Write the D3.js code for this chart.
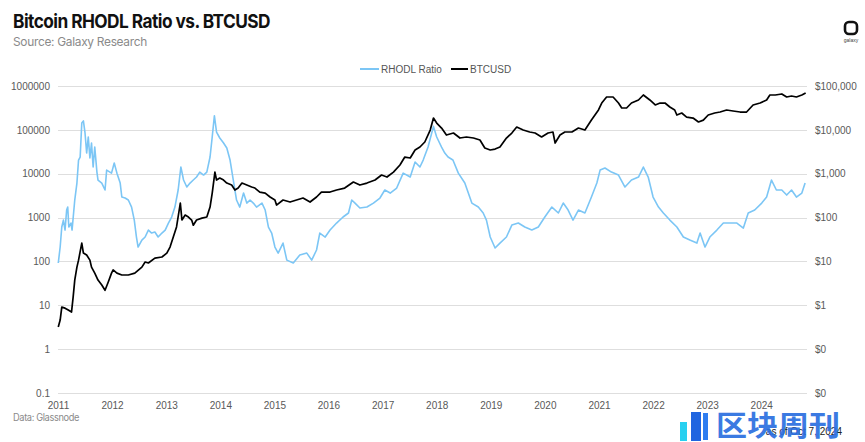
<!DOCTYPE html>
<html><head><meta charset="utf-8">
<script src="https://cdn.jsdelivr.net/npm/d3@7"></script>
<style>body{margin:0;background:#fff}svg{display:block}</style>
</head><body>
<svg id="c" width="865" height="442"></svg>
<script>
// ---- data (decimal years) ----
const rhodlDates=[2011.005,2011.04,2011.07,2011.10,2011.13,2011.16,2011.18,2011.20,2011.24,2011.26,2011.31,2011.35,2011.38,2011.41,2011.44,2011.47,2011.50,2011.53,2011.56,2011.59,2011.62,2011.65,2011.68,2011.72,2011.74,2011.81,2011.87,2011.90,2011.96,2011.99,2012.04,2012.09,2012.15,2012.18,2012.24,2012.30,2012.36,2012.41,2012.45,2012.48,2012.55,2012.61,2012.67,2012.73,2012.79,2012.85,2012.92,2012.98,2013.04,2013.10,2013.16,2013.22,2013.27,2013.32,2013.38,2013.44,2013.50,2013.56,2013.62,2013.69,2013.75,2013.81,2013.85,2013.89,2013.93,2013.99,2014.06,2014.12,2014.18,2014.24,2014.30,2014.36,2014.43,2014.49,2014.55,2014.61,2014.67,2014.77,2014.83,2014.89,2014.95,2015.01,2015.07,2015.16,2015.23,2015.35,2015.47,2015.60,2015.69,2015.78,2015.84,2015.94,2016.03,2016.15,2016.27,2016.37,2016.43,2016.49,2016.58,2016.71,2016.83,2016.95,2017.04,2017.14,2017.26,2017.38,2017.51,2017.60,2017.69,2017.75,2017.84,2017.94,2018.00,2018.09,2018.15,2018.21,2018.30,2018.40,2018.52,2018.65,2018.77,2018.86,2018.92,2018.99,2019.08,2019.17,2019.29,2019.39,2019.51,2019.63,2019.76,2019.88,2020.00,2020.13,2020.25,2020.34,2020.43,2020.52,2020.62,2020.74,2020.86,2020.96,2021.02,2021.11,2021.23,2021.36,2021.48,2021.60,2021.73,2021.82,2021.91,2022.00,2022.10,2022.19,2022.31,2022.44,2022.56,2022.68,2022.81,2022.87,2022.96,2023.05,2023.18,2023.30,2023.42,2023.55,2023.67,2023.76,2023.88,2024.01,2024.10,2024.19,2024.28,2024.38,2024.47,2024.56,2024.65,2024.75,2024.81];
const rhodlValues=[92,213,608,877,519,1486,1738,608,750,519,2512,6124,20500,24000,143000,160000,85000,29600,68700,22800,50000,14200,40600,10900,7180,6124,4250,12100,10900,10300,17500,10300,6124,2940,2790,2512,1738,877,360,213,307,360,519,444,468,360,444,519,750,1030,1738,4250,14200,7180,4970,6124,7180,8400,10900,9330,10900,24000,68700,210000,89300,65200,50000,38500,20500,7180,2512,1738,3620,2140,2512,2140,1738,2140,1486,608,444,213,155,262,107,92,140,155,107,182,444,360,519,750,1030,1270,2512,2140,1650,1738,2140,2790,4250,3620,4710,10300,8400,18500,14200,20500,40600,120000,68700,40600,29600,24000,20500,10300,6124,2140,1738,1270,877,360,202,262,360,675,750,608,519,608,1030,1738,1270,2140,1486,877,1486,1270,2940,6124,12100,13500,10900,9330,4970,7180,8400,14200,8400,2940,1738,1270,877,608,360,307,262,444,213,360,519,750,750,750,577,1270,1486,2140,2940,7180,4250,4250,3260,4250,2940,3620,6124];

const btcDates=[2011.005,2011.04,2011.07,2011.13,2011.19,2011.25,2011.28,2011.31,2011.35,2011.38,2011.44,2011.47,2011.53,2011.59,2011.62,2011.68,2011.74,2011.81,2011.87,2011.93,2011.99,2012.02,2012.09,2012.18,2012.30,2012.42,2012.55,2012.61,2012.67,2012.79,2012.92,2013.01,2013.07,2013.13,2013.19,2013.26,2013.29,2013.35,2013.41,2013.47,2013.50,2013.56,2013.66,2013.75,2013.81,2013.85,2013.90,2013.93,2013.99,2014.06,2014.12,2014.21,2014.27,2014.33,2014.40,2014.49,2014.58,2014.64,2014.73,2014.83,2014.92,2015.01,2015.04,2015.16,2015.29,2015.41,2015.53,2015.66,2015.78,2015.87,2016.03,2016.15,2016.30,2016.46,2016.58,2016.71,2016.86,2016.98,2017.08,2017.20,2017.32,2017.41,2017.51,2017.60,2017.69,2017.78,2017.88,2017.94,2018.00,2018.09,2018.18,2018.31,2018.43,2018.55,2018.68,2018.80,2018.89,2018.99,2019.08,2019.17,2019.29,2019.39,2019.48,2019.60,2019.72,2019.82,2019.94,2020.06,2020.15,2020.19,2020.28,2020.37,2020.50,2020.62,2020.74,2020.86,2020.99,2021.05,2021.14,2021.26,2021.36,2021.42,2021.51,2021.60,2021.73,2021.82,2021.94,2022.04,2022.13,2022.22,2022.31,2022.40,2022.44,2022.53,2022.62,2022.74,2022.84,2022.93,2023.02,2023.14,2023.24,2023.36,2023.48,2023.61,2023.73,2023.85,2023.98,2024.10,2024.16,2024.26,2024.38,2024.47,2024.56,2024.65,2024.75,2024.82];
const btcValues=[0.32,0.46,0.91,0.86,0.78,0.70,1.54,3.76,7.4,10.7,26.2,15.5,14.0,10.7,7.4,5.4,3.76,2.9,2.2,3.4,5.4,6.4,5.4,4.9,4.9,5.4,7.4,9.7,9.2,11.9,12.6,15.5,21.3,36,61,214,88,114,103,88,67,88,97,103,174,362,1090,718,798,718,612,552,425,471,612,552,497,471,382,362,294,251,193,251,226,251,279,226,294,382,382,425,471,645,552,612,718,933,840,1090,1580,2400,2280,3470,4060,5290,9900,18600,14300,11000,7620,8470,6510,6870,6510,5860,3850,3470,3650,4060,6510,8470,11600,9900,8930,8470,6870,8470,8930,5010,7620,8930,8930,11000,9900,16700,28400,40900,56100,56100,40900,31500,31500,40900,48000,62400,48000,36900,40900,40900,33200,28400,21800,24200,19600,18600,15100,16700,21800,24200,25500,28400,26900,25500,25500,36900,40900,48000,62400,62400,65800,56100,59200,56100,62400,69200];

const leftTicks=[0.1,1,10,100,1000,10000,100000,1000000];
const rightTicks=[0.01,0.1,1,10,100,1000,10000,100000];
const yearTicks=[2011,2012,2013,2014,2015,2016,2017,2018,2019,2020,2021,2022,2023,2024];

// ---- helpers ----
function dy(t){const y=Math.floor(t);const s=Date.UTC(y,0,1),e=Date.UTC(y+1,0,1);return new Date(s+(t-y)*(e-s));}

const svg=d3.select("#c");
const L=58,R=807,T=86,B=393;
const x=d3.scaleUtc().domain([dy(2011),dy(2024.845)]).range([L,R]);
const yL=d3.scaleLog().domain([0.1,1e6]).range([B,T]);
const yR=d3.scaleLog().domain([0.01,1e5]).range([B,T]);

const axisFont="'Liberation Sans', Arial, sans-serif";

// title
svg.append("text").attr("x",13).attr("y",28).text("Bitcoin RHODL Ratio vs. BTCUSD")
  .attr("font-family","Inter, 'DejaVu Sans', sans-serif").attr("font-weight",700).attr("font-size",19)
  .attr("letter-spacing","-0.6").attr("fill","#111").attr("textLength",257).attr("lengthAdjust","spacingAndGlyphs");
svg.append("text").attr("x",13).attr("y",46).text("Source: Galaxy Research")
  .attr("font-family","Inter, sans-serif").attr("font-size",12).attr("fill","#8a8a8a")
  .attr("letter-spacing","-0.3").attr("textLength",134).attr("lengthAdjust","spacingAndGlyphs");

// logo
svg.append("rect").attr("x",845).attr("y",22).attr("width",12).attr("height",12).attr("rx",4)
  .attr("fill","none").attr("stroke","#111").attr("stroke-width",2.6);
svg.append("text").attr("x",851).attr("y",42).attr("text-anchor","middle").text("galaxy")
  .attr("font-family",axisFont).attr("font-size",5).attr("fill","#444");

// legend
const lg=svg.append("g").attr("font-family",axisFont).attr("font-size",10).attr("fill","#555");
lg.append("line").attr("x1",360).attr("x2",379).attr("y1",69).attr("y2",69).attr("stroke","#7cc6f5").attr("stroke-width",2);
lg.append("text").attr("x",381).attr("y",72.5).text("RHODL Ratio");
lg.append("line").attr("x1",451).attr("x2",468).attr("y1",69).attr("y2",69).attr("stroke","#000").attr("stroke-width",2);
lg.append("text").attr("x",470).attr("y",72.5).text("BTCUSD");

// gridlines
svg.append("g").selectAll("line").data(leftTicks).join("line")
  .attr("x1",L).attr("x2",R).attr("y1",d=>Math.round(yL(d))+0.5).attr("y2",d=>Math.round(yL(d))+0.5)
  .attr("stroke","#dedede").attr("stroke-width",1);

// left axis
const la=svg.append("g").attr("transform",`translate(${L-8},0)`)
  .call(d3.axisLeft(yL).tickValues(leftTicks).tickSize(0).tickPadding(0)
    .tickFormat(d=>d<1?"0.1":d3.format("d")(d)));
la.select(".domain").remove();
la.selectAll("text").attr("font-family",axisFont).attr("font-size",10).attr("fill","#595959");

// right axis
const ra=svg.append("g").attr("transform",`translate(${R+8},0)`)
  .call(d3.axisRight(yR).tickValues(rightTicks).tickSize(0).tickPadding(0)
    .tickFormat(d=>d<1?"$0":"$"+d3.format(",")(d)));
ra.select(".domain").remove();
ra.selectAll("text").attr("font-family",axisFont).attr("font-size",10).attr("fill","#595959");

// x axis
const xa=svg.append("g").attr("transform",`translate(0,${B+6})`)
  .call(d3.axisBottom(x).tickValues(yearTicks.map(dy)).tickSize(0).tickPadding(3)
    .tickFormat(d=>d.getUTCFullYear()));
xa.select(".domain").remove();
xa.selectAll("text").attr("font-family",axisFont).attr("font-size",10).attr("fill","#595959");

// lines
const rh=rhodlDates.map((d,i)=>[dy(d),rhodlValues[i]]);
const bt=btcDates.map((d,i)=>[dy(d),btcValues[i]]);
svg.append("path").datum(rh).attr("fill","none").attr("stroke","#7cc6f5").attr("stroke-width",1.6)
  .attr("stroke-linejoin","round").attr("d",d3.line().x(d=>x(d[0])).y(d=>yL(d[1])));
svg.append("path").datum(bt).attr("fill","none").attr("stroke","#000").attr("stroke-width",1.7)
  .attr("stroke-linejoin","round").attr("d",d3.line().x(d=>x(d[0])).y(d=>yR(d[1])));

// footer
svg.append("text").attr("x",13).attr("y",421).text("Data: Glassnode")
  .attr("font-family","Inter, sans-serif").attr("font-size",10).attr("fill","#8a8a8a")
  .attr("letter-spacing","-0.4").attr("textLength",66).attr("lengthAdjust","spacingAndGlyphs");
svg.append("text").attr("x",842).attr("y",435).attr("text-anchor","end").text("as of Oct 7, 2024")
  .attr("font-family",axisFont).attr("font-size",10).attr("fill","#222");

// watermark
const wm=svg.append("g");
wm.append("rect").attr("x",680).attr("y",422).attr("width",7).attr("height",19).attr("fill","#28d0f0");
wm.append("rect").attr("x",691).attr("y",412).attr("width",10).attr("height",29).attr("fill","#2065e0");
wm.append("rect").attr("x",703).attr("y",413).attr("width",5).attr("height",27).attr("fill","#2f7df0");
wm.append("text").attr("x",716).attr("y",436).text("区块周刊")
  .attr("font-family","'Noto Sans CJK SC', sans-serif").attr("font-weight",700).attr("font-size",28)
  .attr("fill","#2b6fe0").attr("opacity",0.92).attr("textLength",124).attr("lengthAdjust","spacingAndGlyphs");
</script>
</body></html>
